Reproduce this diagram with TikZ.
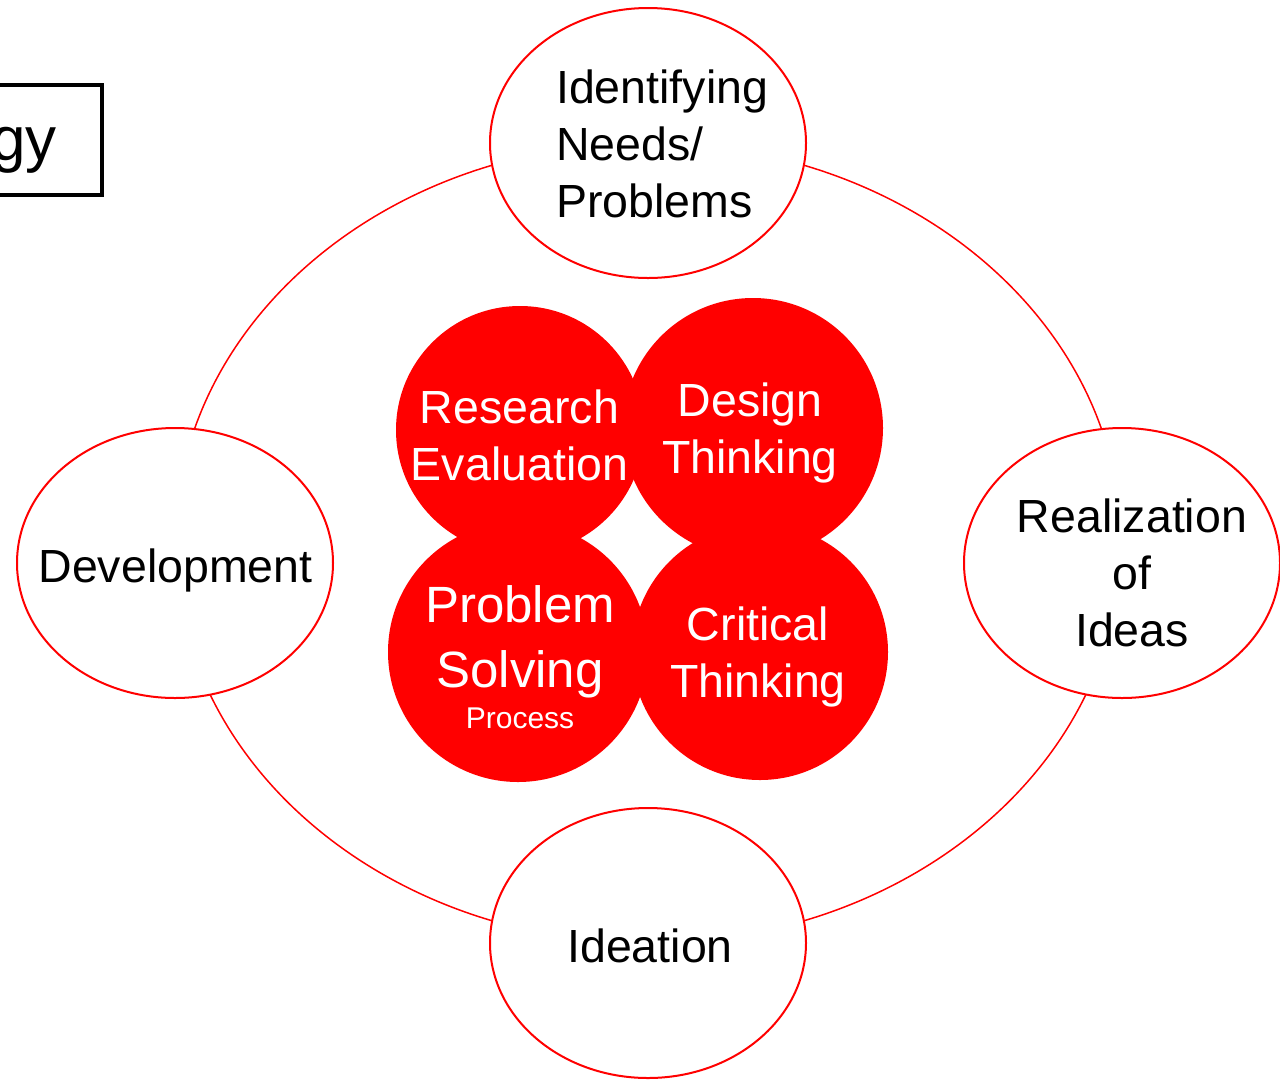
\documentclass[tikz,border=0pt]{standalone}
\usepackage{fontspec}
\setmainfont{Liberation Sans}
\usetikzlibrary{shapes.geometric}
\definecolor{pred}{RGB}{255,0,0}
\begin{document}
\begin{tikzpicture}[x=1pt,y=-1pt,
  ringst/.style={ellipse, draw=pred, line width=1.5pt, minimum width=946pt, minimum height=800pt, inner sep=0pt},
  outer/.style={ellipse, draw=pred, line width=2pt, fill=white, minimum width=316pt, minimum height=270pt, inner sep=0pt},
  core/.style={circle, fill=pred, inner sep=0pt},
  blk/.style={font=\fontsize{46.5}{57}\selectfont, inner sep=0pt, anchor=base},
  wht/.style={blk, text=white},
]
\useasboundingbox (0,0) rectangle (1280,1080);
\clip (0,0) rectangle (1280,1080);

% ring
\node[ringst] (ring) at (648,543) {};

% outer ellipses
\node[outer] (top) at (648,143) {};
\node[outer] (left) at (175,563) {};
\node[outer] (right) at (1122,563) {};
\node[outer] (bottom) at (648,943) {};

% title box (cut off)
\node[draw, line width=4pt, minimum width=112pt, minimum height=110pt, inner sep=0pt] (titlebox) at (46,140) {};
\node[font=\fontsize{62}{70}\selectfont, anchor=base east, inner sep=0pt] (title) at (57,160) {gy};

% red core circles
\node[core, minimum size=248pt] (re) at (520,430) {};
\node[core, minimum size=260pt] (dt) at (753,428) {};
\node[core, minimum size=260pt] (ps) at (518,652) {};
\node[core, minimum size=256pt] (ct) at (760,652) {};

% outer texts
\node[blk, anchor=base west] (tIdent) at (556,103) {\begin{tabular}[t]{@{}l@{}}Identifying\\Needs/\\Problems\end{tabular}};
\node[blk] (tDev) at (175.5,582) {Development};
\node[blk] (tIdea) at (650,962) {Ideation};
\node[blk] (tReal) at (1132,532) {\begin{tabular}[t]{@{}c@{}}Realization\\of\\Ideas\end{tabular}};

% core texts
\node[wht] (tRE) at (519.5,423) {\begin{tabular}[t]{@{}c@{}}Research\\Evaluation\end{tabular}};
\node[wht] (tDT) at (750,416) {\begin{tabular}[t]{@{}c@{}}Design\\Thinking\end{tabular}};
\node[wht, font=\fontsize{51}{65}\selectfont] (tPS) at (520,622) {\begin{tabular}[t]{@{}c@{}}Problem\\Solving\end{tabular}};
\node[wht, font=\fontsize{30}{36}\selectfont] (tPr) at (520,728) {Process};
\node[wht] (tCT) at (758,640) {\begin{tabular}[t]{@{}c@{}}Critical\\Thinking\end{tabular}};
\end{tikzpicture}
\end{document}
